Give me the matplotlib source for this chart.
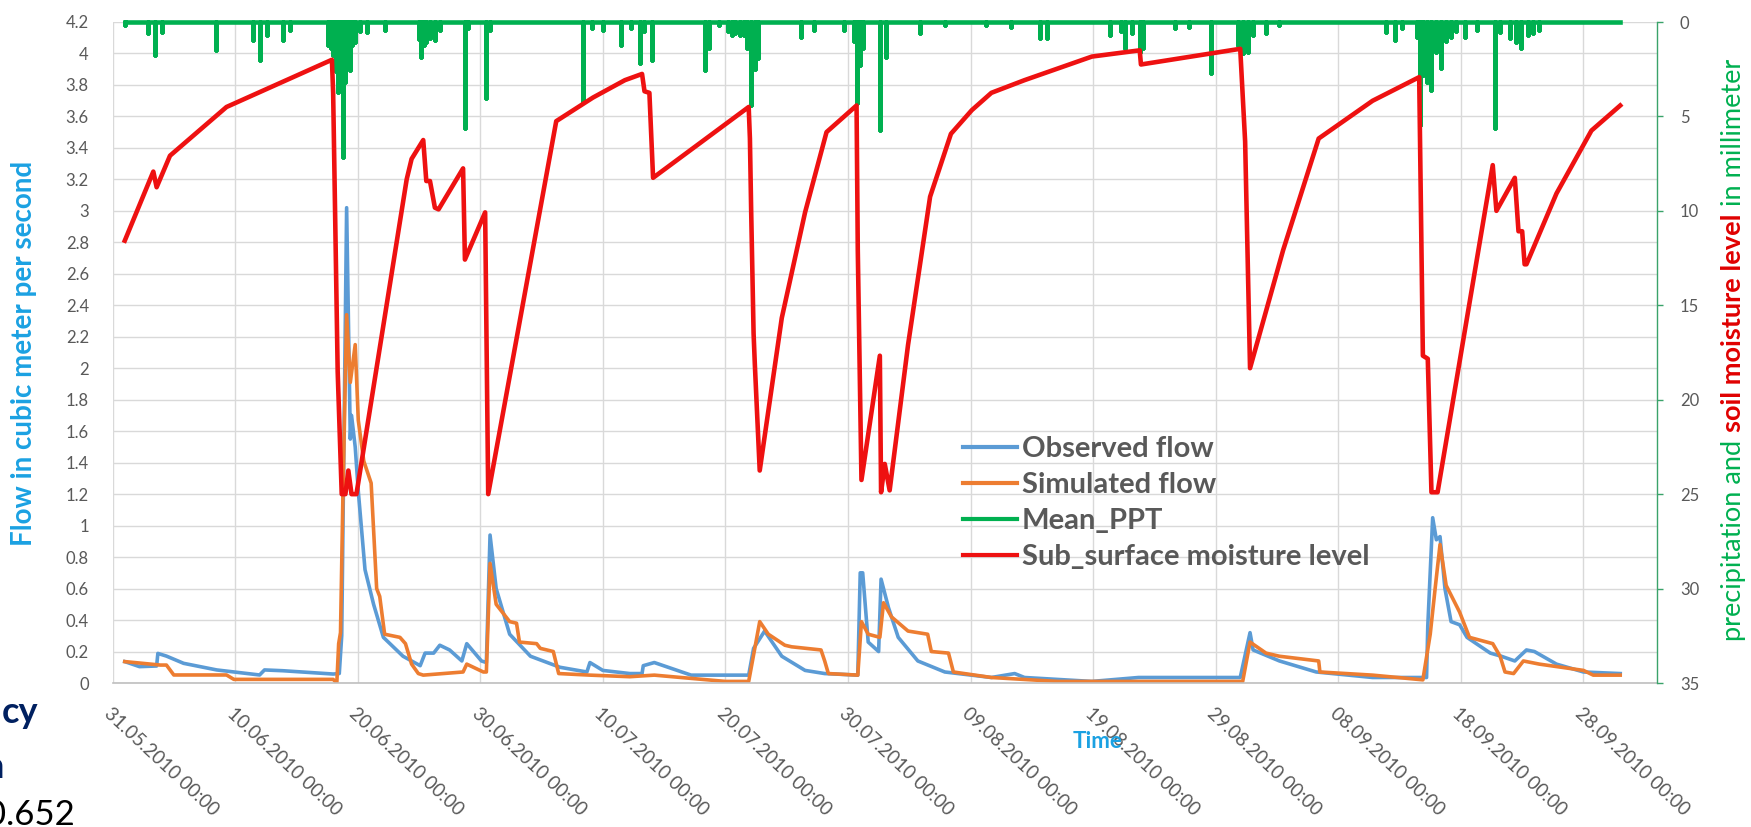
import matplotlib
matplotlib.use('Agg')
import matplotlib.pyplot as plt
import numpy as np

plt.rcParams['font.family'] = ['Lato', 'DejaVu Sans']

# days counted from 31.05.2010 00:00
obs_day = [1.0, 2.2, 3.6, 3.7, 4.4, 5.8, 8.5, 12.0, 12.4, 13.9,
           18.0, 18.5, 18.7, 19.1, 19.4, 19.5, 19.8, 20.05, 20.6, 21.3,
           22.1, 23.7, 25.1, 25.5, 26.2, 26.7, 27.5, 28.5, 28.9, 30.1,
           30.5, 30.8, 31.3, 32.4, 34.1, 36.5, 38.7, 38.95, 40.0, 42.2,
           43.2, 43.3, 44.2, 47.2, 51.9, 52.3, 53.2, 54.6, 56.5, 58.1,
           60.8, 61.0, 61.2, 61.65, 62.5, 62.7, 63.3, 64.1, 65.7, 67.9,
           71.7, 73.6, 74.4, 79.9, 83.7, 92.0, 92.8, 93.05, 95.2, 98.2,
           102.8, 107.2, 107.3, 107.7, 108.0, 108.3, 108.7, 109.2, 109.9, 110.5,
           112.4, 113.3, 114.4, 115.35, 116.0, 117.8, 120.0, 123.0]
obs_flow = [0.136, 0.104, 0.108, 0.188, 0.171, 0.125, 0.083, 0.051, 0.083, 0.078,
            0.057, 0.06, 0.3, 3.02, 1.55, 1.70, 1.5, 1.22, 0.72, 0.50,
            0.29, 0.17, 0.11, 0.19, 0.19, 0.24, 0.21, 0.14, 0.25, 0.14,
            0.13, 0.94, 0.60, 0.31, 0.17, 0.10, 0.07, 0.13, 0.08, 0.06,
            0.06, 0.11, 0.13, 0.05, 0.05, 0.22, 0.33, 0.17, 0.08, 0.06,
            0.05, 0.70, 0.70, 0.26, 0.20, 0.66, 0.48, 0.29, 0.14, 0.07,
            0.035, 0.06, 0.035, 0.01, 0.035, 0.035, 0.32, 0.21, 0.14, 0.07,
            0.035, 0.035, 0.36, 1.05, 0.91, 0.93, 0.6, 0.39, 0.37, 0.29,
            0.19, 0.17, 0.14, 0.21, 0.2, 0.12, 0.07, 0.06]

sim_day = [1.0, 3.9, 4.4, 5.0, 9.3, 9.9, 18.0, 18.3, 18.45, 18.6,
           18.8, 19.1, 19.4, 19.8, 20.05, 20.5, 21.1, 21.55, 21.8, 22.2,
           23.45, 23.9, 24.4, 24.95, 25.35, 28.6, 28.9, 30.25, 30.5, 30.8,
           31.3, 32.4, 32.96, 33.2, 34.6, 34.9, 35.96, 36.4, 38.95, 42.2,
           44.2, 50.0, 51.9, 52.8, 53.5, 54.85, 55.4, 57.8, 58.1, 58.4,
           60.8, 61.1, 61.65, 62.6, 62.9, 63.55, 64.9, 66.5, 66.8, 68.2,
           68.6, 71.7, 77.1, 83.7, 92.2, 92.8, 94.1, 95.2, 98.4, 98.5,
           102.8, 106.9, 107.5, 107.9, 108.3, 108.8, 109.9, 110.7, 112.6, 113.2,
           113.6, 114.3, 115.1, 116.4, 120.0, 120.8, 123.0]
sim_flow = [0.136, 0.114, 0.114, 0.051, 0.051, 0.023, 0.023, 0.0, 0.25, 0.32,
            1.2, 2.34, 1.91, 2.15, 1.67, 1.41, 1.27, 0.60, 0.55, 0.31,
            0.29, 0.25, 0.12, 0.06, 0.05, 0.07, 0.12, 0.07, 0.07, 0.76,
            0.50, 0.39, 0.38, 0.26, 0.25, 0.22, 0.20, 0.06, 0.05, 0.04,
            0.05, 0.01, 0.01, 0.39, 0.31, 0.24, 0.23, 0.21, 0.14, 0.06,
            0.05, 0.39, 0.31, 0.29, 0.51, 0.42, 0.33, 0.31, 0.20, 0.19,
            0.07, 0.035, 0.01, 0.01, 0.01, 0.26, 0.19, 0.17, 0.14, 0.07,
            0.05, 0.02, 0.31, 0.6, 0.88, 0.62, 0.45, 0.29, 0.25, 0.17,
            0.07, 0.06, 0.14, 0.12, 0.08, 0.05, 0.05]

# rainfall events (mm), hanging from the top of the inverted right axis
ppt_day = [1.0, 2.9, 3.47, 4.0, 8.44, 11.49, 12.03, 12.57, 13.93, 14.48,
           17.6, 17.8, 18.0, 18.2, 18.42, 18.6, 18.83, 18.97, 19.15, 19.37,
           19.55, 19.78, 20.2, 20.73, 22.23, 25.0, 25.2, 25.4, 25.6, 25.9,
           26.3, 26.7, 28.75, 29.0, 30.5, 30.8, 38.4, 39.1, 40.0, 41.5,
           42.3, 43.0, 43.4, 44.0, 48.3, 48.7, 49.5, 50.2, 50.5, 50.8,
           51.2, 51.5, 51.8, 52.1, 52.4, 52.7, 56.2, 57.2, 59.7, 60.5,
           60.7, 61.0, 61.2, 62.6, 63.1, 65.9, 67.9, 71.3, 73.3, 75.65,
           76.2, 81.4, 82.3, 82.6, 83.2, 83.8, 84.1, 86.7, 87.8, 89.6,
           91.8, 92.2, 92.6, 93.05, 94.1, 95.2, 103.9, 104.6, 105.2, 106.4,
           106.65, 106.9, 107.2, 107.6, 108.0, 108.4, 108.8, 109.2, 109.6, 110.3,
           111.3, 112.8, 113.2, 114.0, 114.5, 114.9, 115.5, 115.9, 116.4]
ppt_mm = [0.16, 0.6, 1.75, 0.51, 1.48, 0.95, 2.01, 0.69, 0.95, 0.42,
          1.22, 1.4, 1.75, 2.6, 3.69, 3.0, 7.13, 3.2, 2.0, 2.54,
          1.2, 1.04, 0.5, 0.51, 0.42, 0.9, 1.84, 1.2, 1.04, 0.85,
          0.95, 0.42, 5.63, 0.34, 4.0, 0.42, 4.22, 0.34, 0.42, 1.22,
          0.34, 2.19, 0.5, 2.01, 2.54, 1.39, 0.16, 0.5, 0.69, 0.6,
          0.69, 0.7, 1.4, 4.39, 2.5, 1.92, 0.78, 0.42, 0.42, 1.0,
          4.3, 2.28, 1.39, 5.72, 1.84, 0.6, 0.16, 0.16, 0.25, 0.86,
          0.86, 0.69, 0.5, 1.39, 0.6, 1.57, 1.39, 0.34, 0.25, 2.72,
          1.22, 1.66, 1.57, 0.69, 0.6, 0.16, 0.51, 0.95, 0.34, 0.8,
          5.45, 2.81, 3.16, 3.6, 1.57, 2.45, 1.0, 0.78, 0.5, 0.78,
          0.42, 5.63, 0.51, 0.86, 1.04, 1.39, 0.69, 0.6, 0.42]
ppt_start, ppt_end = 1.0, 123.0

moist_day = [1.0, 3.33, 3.6, 4.69, 9.3, 17.9, 18.0, 18.37, 18.7, 19.0,
             19.24, 19.5, 19.9, 24.0, 24.4, 25.35, 25.6, 25.9, 26.3, 26.6,
             28.6, 28.75, 30.4, 30.65, 36.2, 39.2, 41.8, 43.2, 43.4, 43.8,
             44.1, 51.9, 52.0, 52.1, 52.3, 52.4, 52.8, 54.6, 56.5, 58.25,
             60.7, 60.8, 61.1, 62.6, 62.7, 63.0, 63.4, 64.9, 66.7, 68.4,
             70.1, 71.7, 74.4, 79.9, 83.8, 83.9, 92.0, 92.4, 92.8, 95.5,
             98.4, 102.8, 106.6, 106.9, 107.3, 107.6, 108.1, 112.6, 112.9, 114.4,
             114.7, 115.0, 115.2, 115.35, 117.8, 120.65, 123.0]
moist_mm = [11.58, 7.92, 8.75, 7.08, 4.5, 2.0, 3.75, 18.5, 25.0, 25.0,
            23.75, 25.0, 25.0, 8.33, 7.25, 6.25, 8.42, 8.42, 9.83, 9.92,
            7.75, 12.58, 10.08, 25.0, 5.25, 4.0, 3.08, 2.75, 3.67, 3.75,
            8.25, 4.5, 6.17, 9.92, 16.5, 18.1, 23.75, 15.67, 10.08, 5.83,
            4.42, 12.08, 24.25, 17.67, 24.9, 23.4, 24.8, 17.1, 9.25, 5.92,
            4.67, 3.75, 3.08, 1.83, 1.5, 2.25, 1.42, 6.33, 18.33, 12.08,
            6.17, 4.17, 2.92, 17.67, 17.83, 24.9, 24.9, 7.58, 10.0, 8.25,
            11.08, 11.08, 12.83, 12.83, 9.08, 5.75, 4.42]

tick_days = [0, 10, 20, 30, 40, 50, 60, 70, 80, 90, 100, 110, 120]
tick_labels = ['31.05.2010 00:00', '10.06.2010 00:00', '20.06.2010 00:00',
               '30.06.2010 00:00', '10.07.2010 00:00', '20.07.2010 00:00',
               '30.07.2010 00:00', '09.08.2010 00:00', '19.08.2010 00:00',
               '29.08.2010 00:00', '08.09.2010 00:00', '18.09.2010 00:00',
               '28.09.2010 00:00']
flow_ticks = np.round(np.arange(0, 4.21, 0.2), 1)
mm_ticks = [0, 5, 10, 15, 20, 25, 30, 35]

# rainfall as one line: zero baseline with a vertical stroke per event
ppt_x, ppt_y = [ppt_start], [0.0]
for d, v in zip(ppt_day, ppt_mm):
    ppt_x += [d, d, d]
    ppt_y += [0.0, v, 0.0]
ppt_x.append(ppt_end)
ppt_y.append(0.0)

W, H = 1751, 827
fig = plt.figure(figsize=(W / 100, H / 100), dpi=100)
ax = fig.add_axes([112.5 / W, 1 - 683 / H, (1657 - 112.5) / W, (683 - 22) / H])
ax2 = ax.twinx()

grey = '#595959'
blue = '#5B9BD5'
orange = '#ED7D31'
green = '#00B050'
red = '#EE1111'
title_blue = '#1BA1E2'

l1, = ax.plot(obs_day, obs_flow, color=blue, lw=2.6, label='Observed flow')
l2, = ax.plot(sim_day, sim_flow, color=orange, lw=2.6, label='Simulated flow')
l3, = ax2.plot(ppt_x, ppt_y, color=green, lw=3.3, label='Mean_PPT', clip_on=False)
l4, = ax2.plot(moist_day, moist_mm, color=red, lw=3.3, label='Sub_surface moisture level')

ax.set_xlim(0, 126)
ax.set_ylim(0, 4.2)
ax2.set_ylim(35, 0)

ax.set_yticks(flow_ticks)
ax.set_yticklabels([f'{v:g}' for v in flow_ticks])
ax.set_xticks(tick_days)
ax.set_xticklabels(tick_labels, rotation=-43, ha='left', va='top', rotation_mode='anchor')
ax2.set_yticks(mm_ticks)

ax.grid(True, color='#D9D9D9', lw=1.0)
ax.set_axisbelow(True)
ax.tick_params(axis='y', length=0, pad=17, labelsize=12, labelcolor=grey)
ax.tick_params(axis='x', length=0, pad=16, labelsize=13.5, labelcolor=grey)
ax2.tick_params(axis='y', length=4.5, width=1, color='#3AA36A', pad=12,
                labelsize=12, labelcolor=grey)

for s in ['left', 'top', 'right']:
    ax.spines[s].set_visible(False)
ax.spines['bottom'].set_color('#BFBFBF')
ax.spines['bottom'].set_linewidth(1.2)
for s in ['left', 'top', 'bottom']:
    ax2.spines[s].set_visible(False)
ax2.spines['right'].set_color('#3AA36A')
ax2.spines['right'].set_linewidth(1.0)

leg = ax2.legend([l1, l2, l3, l4], [h.get_label() for h in (l1, l2, l3, l4)],
                 loc='upper left', bbox_to_anchor=(963 / W, 1 - 436 / H),
                 bbox_transform=fig.transFigure, frameon=False, borderpad=0,
                 borderaxespad=0, handlelength=1.85, handletextpad=0.17,
                 labelspacing=0.34, labelcolor=grey,
                 prop={'family': 'Lato', 'weight': 'bold', 'size': 21})
for h in leg.get_lines():
    h.set_linewidth(3.0)

# axis titles
fig.text(24 / W, 1 - 353 / H, 'Flow in cubic meter per second', rotation=90,
         ha='center', va='center', color=title_blue, fontweight='bold', fontsize=20)
fig.text(1098 / W, 1 - 742 / H, 'Time', ha='center', va='center',
         color=title_blue, fontweight='bold', fontsize=16)

# right title in three colours, stacked bottom to top
pieces = [('precipitation and', green, 'normal'),
          ('soil moisture level', '#E00000', 'bold'),
          ('in millimeter', green, 'normal')]
fig.canvas.draw()
renderer = fig.canvas.get_renderer()
size = 19.5
gap = size * 100 / 72 * 0.27
texts = []
for s, c, w in pieces:
    t = fig.text(0, 0, s, rotation=90, ha='center', va='bottom', color=c,
                 fontweight=w, fontsize=size)
    texts.append(t)
heights = [t.get_window_extent(renderer).height for t in texts]
total = sum(heights) + gap * (len(texts) - 1)
y = (H - 350) - total / 2
for t, h in zip(texts, heights):
    t.set_position((1733 / W, y / H))
    y += h + gap

# slide text cut off at the left edge
fig.text(38 / W, 1 - 723 / H, 'cy', ha='right', va='baseline', color='#002060',
         fontweight='bold', fontsize=26)
fig.text(4 / W, 1 - 778 / H, 'n', ha='right', va='baseline', color='#002060',
         fontweight='bold', fontsize=26)
fig.text(75 / W, 1 - 825 / H, '0.652', ha='right', va='baseline', color='black',
         fontsize=25)

fig.savefig('out.png', dpi=100)
